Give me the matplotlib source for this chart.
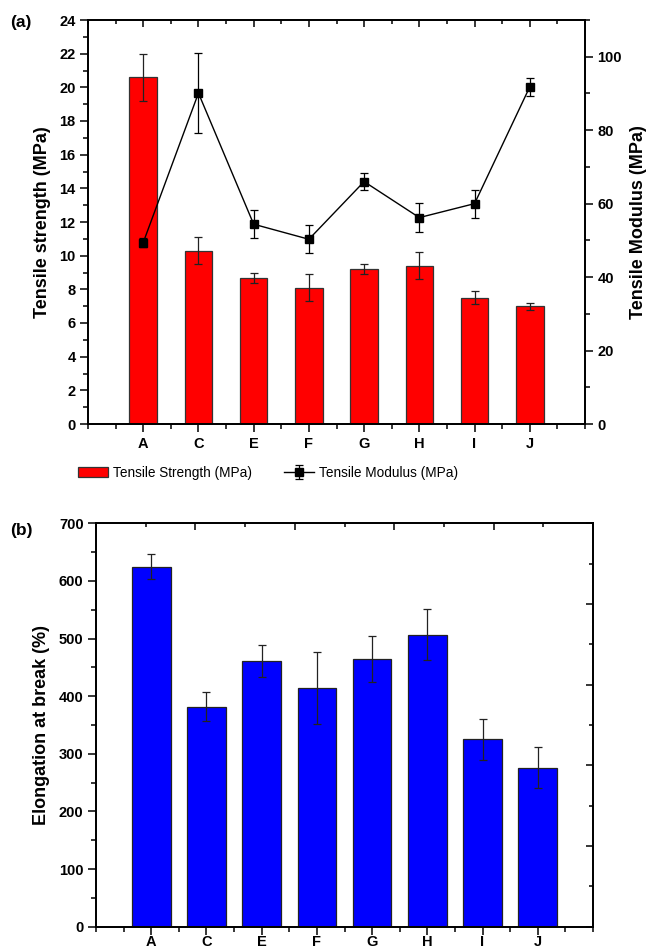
import numpy as np
import matplotlib.pyplot as plt
from matplotlib.ticker import MultipleLocator, NullFormatter

plt.rcParams['font.family'] = ['Liberation Sans', 'DejaVu Sans']
plt.rcParams['axes.linewidth'] = 1.1

# Data
categories = ['A', 'C', 'E', 'F', 'G', 'H', 'I', 'J']
strength = [20.6, 10.3, 8.7, 8.1, 9.2, 9.4, 7.5, 7.0]
strength_err = [1.4, 0.8, 0.3, 0.8, 0.3, 0.8, 0.4, 0.2]
modulus = [49.4, 90.1, 54.4, 50.3, 66.0, 56.2, 60.0, 91.8]
modulus_err = [1.2, 11.0, 3.8, 3.8, 2.4, 4.0, 3.8, 2.4]
elongation = [625, 382, 461, 414, 465, 507, 325, 276]
elongation_err = [22, 25, 27, 63, 40, 45, 36, 36]

x = np.arange(1, len(categories) + 1)

fig = plt.figure(figsize=(6.53, 9.49), dpi=100)


def style_ticks(ax, which_x='out', which_y='out'):
    ax.tick_params(axis='x', which='major', direction=which_x, length=5.5, width=1.1)
    ax.tick_params(axis='x', which='minor', direction=which_x, length=3.5, width=1.1)
    ax.tick_params(axis='y', which='major', direction=which_y, length=5.5, width=1.1)
    ax.tick_params(axis='y', which='minor', direction=which_y, length=3.5, width=1.1)
    for lab in ax.get_xticklabels() + ax.get_yticklabels():
        lab.set_fontweight('bold')
        lab.set_fontsize(10.5)


# ---- (a) tensile strength + modulus
ax = fig.add_axes([88 / 653, 1 - 424 / 949, 497 / 653, 404 / 949])
ax.bar(x, strength, width=0.5, color='#ff0000', edgecolor='#333333', linewidth=0.9,
       label='Tensile Strength (MPa)', zorder=2)
ax.errorbar(x, strength, yerr=strength_err, fmt='none', ecolor='#222222',
            elinewidth=0.9, capsize=3, capthick=0.9, zorder=3)
ax.set_xlim(0, 9)
ax.set_ylim(0, 24)
ax.set_xticks(x)
ax.set_xticklabels(categories)
ax.xaxis.set_minor_locator(MultipleLocator(0.5))
ax.yaxis.set_major_locator(MultipleLocator(2))
ax.yaxis.set_minor_locator(MultipleLocator(1))
ax.set_ylabel('Tensile strength (MPa)', fontsize=13, fontweight='bold', labelpad=6)
style_ticks(ax)

# mirrored top ticks (inward)
axt = ax.twiny()
axt.set_xlim(0, 9)
axt.set_xticks(x)
axt.xaxis.set_minor_locator(MultipleLocator(0.5))
axt.xaxis.set_major_formatter(NullFormatter())
axt.tick_params(axis='x', which='major', direction='in', length=5, width=1.1)
axt.tick_params(axis='x', which='minor', direction='in', length=3, width=1.1)

ax2 = ax.twinx()
ax2.errorbar(x, modulus, yerr=modulus_err, color='black', marker='s', markersize=5.5,
             linewidth=1.0, elinewidth=0.9, capsize=3, capthick=0.9,
             label='Tensile Modulus (MPa)', zorder=4)
ax2.set_ylim(0, 110)
ax2.yaxis.set_major_locator(MultipleLocator(20))
ax2.yaxis.set_minor_locator(MultipleLocator(10))
ax2.set_ylabel('Tensile Modulus (MPa)', fontsize=13, fontweight='bold', labelpad=6)
style_ticks(ax2)

h1, l1 = ax.get_legend_handles_labels()
h2, l2 = ax2.get_legend_handles_labels()
fig.legend(h1 + h2, l1 + l2, loc='center', bbox_to_anchor=(268 / 653, 1 - 473 / 949),
           ncol=2, frameon=False, fontsize=9.8, handlelength=2.2, columnspacing=2.3,
           handletextpad=0.4)

fig.text(10 / 653, 1 - 23 / 949, '(a)', fontsize=12.5, fontweight='bold', va='center')

# ---- (b) elongation at break
axb = fig.add_axes([96 / 653, 1 - 926.7 / 949, 497 / 653, 403.4 / 949])
axb.bar(x, elongation, width=0.7, color='#0000ff', edgecolor='#222222', linewidth=0.9, zorder=2)
axb.errorbar(x, elongation, yerr=elongation_err, fmt='none', ecolor='#222222',
             elinewidth=0.9, capsize=3, capthick=0.9, zorder=3)
axb.set_xlim(0, 9)
axb.set_ylim(0, 700)
axb.set_xticks(x)
axb.set_xticklabels(categories)
axb.xaxis.set_minor_locator(MultipleLocator(0.5))
axb.yaxis.set_major_locator(MultipleLocator(100))
axb.yaxis.set_minor_locator(MultipleLocator(50))
axb.set_ylabel('Elongation at break (%)', fontsize=13, fontweight='bold', labelpad=6)
style_ticks(axb)
axb.tick_params(axis='x', which='major', pad=0.5)

axbr = axb.twinx()
axbr.set_ylim(0, 10)
axbr.yaxis.set_major_locator(MultipleLocator(2))
axbr.yaxis.set_minor_locator(MultipleLocator(1))
axbr.yaxis.set_major_formatter(NullFormatter())
axbr.tick_params(axis='y', which='major', direction='in', length=5, width=1.1)
axbr.tick_params(axis='y', which='minor', direction='in', length=3, width=1.1)

axbt = axb.twiny()
axbt.set_xlim(0, 10)
axbt.xaxis.set_major_locator(MultipleLocator(2))
axbt.xaxis.set_minor_locator(MultipleLocator(1))
axbt.xaxis.set_major_formatter(NullFormatter())
axbt.tick_params(axis='x', which='major', direction='in', length=5, width=1.1)
axbt.tick_params(axis='x', which='minor', direction='in', length=3, width=1.1)

fig.text(10 / 653, 1 - 530 / 949, '(b)', fontsize=12.5, fontweight='bold', va='center')

fig.savefig('out.png', dpi=100)
